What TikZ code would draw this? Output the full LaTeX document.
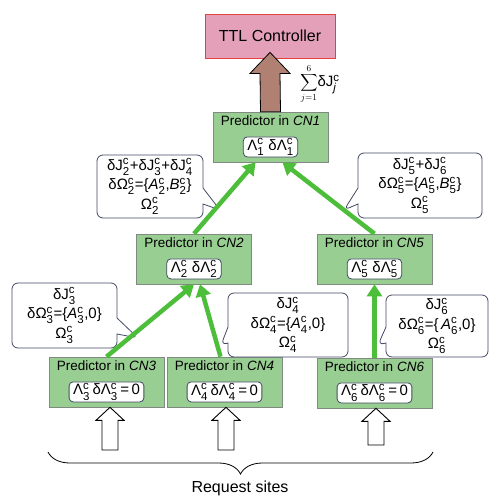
\documentclass[tikz,border=0pt]{standalone}
\usepackage{fontspec}
\setmainfont{Liberation Sans}
\usepackage{amsmath}
\usetikzlibrary{positioning, calc, arrows.meta, shapes.callouts, decorations.pathreplacing}

\definecolor{ttlpink}{RGB}{228,160,184}
\definecolor{ttlred}{RGB}{232,64,64}
\definecolor{predgreen}{RGB}{152,206,146}
\definecolor{predgray}{RGB}{128,138,128}
\definecolor{flowgreen}{RGB}{76,190,58}
\definecolor{sumbrown}{RGB}{176,128,114}
\definecolor{inkblue}{RGB}{68,74,100}

% larger scripts for the 15pt labels
\DeclareMathSizes{15}{15}{11.5}{9}
\DeclareMathSizes{12}{12}{9}{7}
% base with sub- and superscript
\newcommand\cv[3]{#1\(^{\text{#3}}_{\text{#2}}\)}
% hollow arrow from a request site up to a predictor box
\newcommand\sitearrow[2]{%
  \draw[hollow] ($(#1)+(-8,0)$) -- ($(#1 |- #2.south)+(-8,13)$)
    -- ($(#1 |- #2.south)+(-14,13)$) -- (#1 |- #2.south)
    -- ($(#1 |- #2.south)+(14,13)$) -- ($(#1 |- #2.south)+(8,13)$)
    -- ($(#1)+(8,0)$) -- cycle;}

\begin{document}
\begin{tikzpicture}[x=1pt, y=-1pt,
    ctrl/.style={draw=ttlred, fill=ttlpink, line width=0.8pt, minimum width=130pt, minimum height=44pt, font=\fontsize{16}{19}\selectfont},
    pred/.style={draw=predgray, fill=predgreen, line width=0.6pt, minimum width=115pt, minimum height=50pt},
    ptitle/.style={inner sep=1pt, font=\fontsize{13.5}{16}\selectfont},
    lam/.style={draw=inkblue, fill=white, line width=0.8pt, rounded corners=4pt, inner xsep=4pt, inner ysep=1pt, minimum height=20pt, font=\fontsize{15}{17}\selectfont},
    note/.style={rectangle callout, draw=inkblue, fill=white, line width=0.8pt, rounded corners=6pt, callout pointer width=16pt, align=center, inner sep=1pt, font=\fontsize{15}{19.5}\selectfont},
    flow/.style={draw=flowgreen, line width=4.5pt, -{Triangle[width=15pt,length=12pt]}},
    fat/.style={draw=black, fill=sumbrown, line width=0.8pt},
    hollow/.style={draw=black, fill=white, line width=0.9pt}]

    \useasboundingbox (0,0) rectangle (489,496);

    % Controller on top
    \node[ctrl] (ttl) at (270,36) {TTL Controller};

    % Predictor boxes
    \foreach \n/\x/\y in {1/270.5/137, 2/194/259, 5/374.5/259, 3/106.5/382, 4/224.5/382, 6/374.5/383} {
        \node[pred] (cn\n) at (\x,\y) {};
        \node[ptitle, below=3pt of cn\n.north] {Predictor in \textit{CN\n}};
    }

    % Inner state boxes
    \node[lam, above=5pt of cn1.south] (lam1) {\cv{Λ}{1}{c}\ \cv{δΛ}{1}{c}};
    \node[lam, above=5pt of cn2.south] (lam2) {\cv{Λ}{2}{c}\ \cv{δΛ}{2}{c}};
    \node[lam, above=5pt of cn5.south] (lam5) {\cv{Λ}{5}{c}\ \cv{δΛ}{5}{c}};
    \node[lam, above=5pt of cn3.south] (lam3) {\cv{Λ}{3}{c}\,\cv{δΛ}{3}{c}\,=\,0};
    \node[lam, above=5pt of cn4.south] (lam4) {\cv{Λ}{4}{c}\,\cv{δΛ}{4}{c}\,=\,0};
    \node[lam, above=5pt of cn6.south] (lam6) {\cv{Λ}{6}{c}\,\cv{δΛ}{6}{c}\,=\,0};

    % Messages sent upwards
    \node[note, minimum width=106pt, minimum height=63pt, callout absolute pointer={(220,210)}] (note2) at (150,186.5)
        {\cv{δJ}{2}{c}+\cv{δJ}{3}{c}+\cv{δJ}{4}{c}\\ \cv{δΩ}{2}{c}=\{\cv{\textit{A}}{2}{c},\cv{\textit{B}}{2}{c}\}\\ \cv{Ω}{2}{c}};
    \node[note, minimum width=124pt, minimum height=65pt, callout absolute pointer={(344,210)}] (note5) at (420,185.5)
        {\cv{δJ}{5}{c}+\cv{δJ}{6}{c}\\ \cv{δΩ}{5}{c}=\{\cv{\textit{A}}{5}{c},\cv{\textit{B}}{5}{c}\}\\ \cv{Ω}{5}{c}};
    \node[note, minimum width=105pt, minimum height=65pt, callout absolute pointer={(138,338)}] (note3) at (64.5,315.5)
        {\cv{δJ}{3}{c}\\ \cv{δΩ}{3}{c}=\{\cv{\textit{A}}{3}{c},0\}\\ \cv{Ω}{3}{c}};
    \node[note, minimum width=120pt, minimum height=64pt, callout absolute pointer={(221,345)}] (note4) at (288,325)
        {\cv{δJ}{4}{c}\\ \cv{δΩ}{4}{c}=\{\cv{\textit{A}}{4}{c},0\}\\ \cv{Ω}{4}{c}};
    \node[note, minimum width=102pt, minimum height=62pt, callout absolute pointer={(378,345)}] (note6) at (437,326)
        {\cv{δJ}{6}{c}\\ \cv{δΩ}{6}{c}=\{\,\cv{\textit{A}}{6}{c},0\}\\ \cv{Ω}{6}{c}};

    % Aggregation arrows
    \draw[flow] (cn3.north) -- (cn2.south);
    \draw[flow] ([xshift=-4pt]cn4.north) -- ([xshift=6pt]cn2.south);
    \draw[flow] (cn6.north) -- (cn5.south);
    \draw[flow] (cn2.north) -- ([xshift=-15pt]cn1.south);
    \draw[flow] (cn5.north) -- ([xshift=12pt]cn1.south);

    % Sum sent to the controller
    \draw[fat] ([xshift=-10pt]cn1.north) -- ($(ttl.south)+(-10,15)$) -- ($(ttl.south)+(-20,15)$)
        -- ([yshift=6pt]ttl.south) -- ($(ttl.south)+(20,15)$) -- ($(ttl.south)+(10,15)$)
        -- ([xshift=10pt]cn1.north) -- cycle;
    \node[inner sep=0pt] (sumlbl) at (320,84)
        {{\fontsize{12}{14}\selectfont\(\displaystyle\sum_{j=1}^{6}\)}{\fontsize{15}{17}\selectfont\cv{δJ}{\textit{j}}{c}}};

    % Request sites
    \coordinate (rs3) at (110,450);
    \coordinate (rs4) at (226,450);
    \coordinate (rs6) at (376,445);
    \sitearrow{rs3}{cn3}
    \sitearrow{rs4}{cn4}
    \sitearrow{rs6}{cn6}

    \coordinate (bl) at (48,452);
    \coordinate (br) at (433,452);
    \draw[decorate, decoration={brace, mirror, amplitude=22pt}, line width=0.8pt] (bl) -- (br);
    \node[font=\fontsize{16}{19}\selectfont] (sites) at (240,488) {Request sites};

\end{tikzpicture}
\end{document}
